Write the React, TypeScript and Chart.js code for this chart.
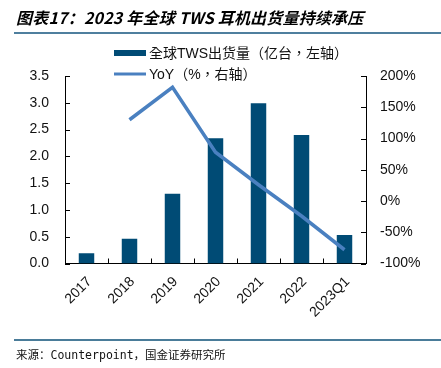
import React, { useEffect, useRef } from "react";
import { Chart, registerables } from "chart.js";

Chart.register(...registerables);

const categories = ["2017", "2018", "2019", "2020", "2021", "2022", "2023Q1"];
const shipments = [0.19, 0.46, 1.3, 2.34, 2.99, 2.4, 0.53];
const yoy: (number | null)[] = [null, 130, 182, 78, 26, -24, -78];
const shipmentLabel = "全球TWS出货量（亿台，左轴）";
const yoyLabel = "YoY（%，右轴）";
const titleText = "图表17：2023 年全球 TWS 耳机出货量持续承压";
const sourceText = "来源：Counterpoint，国金证券研究所";

const FONT = '"Liberation Sans", "Noto Sans CJK SC", sans-serif';
const LEGEND_FONT = '"Liberation Sans", "Noto Sans CJK TC", sans-serif';
const BAR_COLOR = "#004B75";
const LINE_COLOR = "#4A80C0";

const legendPlugin = {
  id: "customLegend",
  afterDraw(chart: any) {
    const ctx = chart.ctx;
    const ds = chart.data.datasets;
    const x0 = 114;
    const r1 = 53;
    const r2 = 74;
    ctx.save();
    ctx.font = `14px ${LEGEND_FONT}`;
    ctx.textBaseline = "middle";
    ctx.textAlign = "left";
    ctx.fillStyle = ds[0].backgroundColor;
    ctx.fillRect(x0, r1 - 3, 32, 6);
    ctx.fillStyle = "#111";
    ctx.fillText(ds[0].label, x0 + 35, r1 + 1);
    ctx.strokeStyle = ds[1].borderColor;
    ctx.lineWidth = 3;
    ctx.beginPath();
    ctx.moveTo(x0, r2);
    ctx.lineTo(x0 + 32, r2);
    ctx.stroke();
    ctx.fillText(ds[1].label, x0 + 35, r2 + 1);
    ctx.restore();
  },
};

const tickPlugin = {
  id: "inwardTicks",
  afterDraw(chart: any) {
    const { ctx, chartArea, scales } = chart;
    ctx.save();
    ctx.strokeStyle = "#000";
    ctx.lineWidth = 1;
    ctx.beginPath();
    scales.y.ticks.forEach((t: any) => {
      const py = Math.round(scales.y.getPixelForValue(t.value)) + 0.5;
      ctx.moveTo(chartArea.left, py);
      ctx.lineTo(chartArea.left + 5, py);
    });
    scales.y1.ticks.forEach((t: any) => {
      const py = Math.round(scales.y1.getPixelForValue(t.value)) + 0.5;
      ctx.moveTo(chartArea.right, py);
      ctx.lineTo(chartArea.right - 5, py);
    });
    for (let i = 0; i <= categories.length; i++) {
      const px = Math.round(scales.x.getPixelForValue(i - 0.5)) + 0.5;
      ctx.moveTo(px, chartArea.bottom);
      ctx.lineTo(px, chartArea.bottom - 5);
    }
    ctx.stroke();
    ctx.restore();
  },
};

export default function App() {
  const canvasRef = useRef<HTMLCanvasElement | null>(null);

  useEffect(() => {
    if (!canvasRef.current) return;
    const chart = new Chart(canvasRef.current, {
      type: "bar",
      data: {
        labels: categories,
        datasets: [
          {
            type: "bar",
            label: shipmentLabel,
            data: shipments,
            backgroundColor: BAR_COLOR,
            borderWidth: 0,
            yAxisID: "y",
            barPercentage: 0.36,
            categoryPercentage: 1,
            order: 2,
          } as any,
          {
            type: "line",
            label: yoyLabel,
            data: yoy,
            borderColor: LINE_COLOR,
            backgroundColor: LINE_COLOR,
            borderWidth: 3.5,
            pointRadius: 0,
            tension: 0,
            yAxisID: "y1",
            order: 1,
          } as any,
        ],
      },
      options: {
        animation: false,
        responsive: true,
        maintainAspectRatio: false,
        layout: { padding: { top: 76, left: 0, right: 0, bottom: 0 } },
        plugins: {
          legend: { display: false },
          tooltip: { enabled: false },
          title: { display: false },
        },
        scales: {
          x: {
            grid: { display: false, drawTicks: false },
            border: { display: true, color: "#000", width: 1 },
            ticks: {
              minRotation: 45,
              maxRotation: 45,
              padding: 10,
              labelOffset: 3,
              color: "#111",
              font: { family: FONT, size: 14 },
            },
            afterFit: (s: any) => {
              s.height = 104.5;
            },
          },
          y: {
            position: "left",
            min: 0,
            max: 3.5,
            grid: { display: false, drawTicks: false },
            border: { display: true, color: "#000", width: 1 },
            ticks: {
              stepSize: 0.5,
              padding: 16,
              color: "#111",
              font: { family: FONT, size: 14 },
              callback: (v: any) => Number(v).toFixed(1),
            },
            afterFit: (s: any) => {
              s.width = 65;
            },
          },
          y1: {
            position: "right",
            min: -100,
            max: 200,
            grid: { display: false, drawTicks: false },
            border: { display: true, color: "#000", width: 1 },
            ticks: {
              stepSize: 50,
              padding: 14,
              color: "#111",
              font: { family: FONT, size: 14 },
              callback: (v: any) => `${v}%`,
            },
            afterFit: (s: any) => {
              s.width = 75;
            },
          },
        },
      },
      plugins: [tickPlugin, legendPlugin],
    });
    return () => chart.destroy();
  }, []);

  return (
    <div
      style={{
        position: "fixed",
        left: 0,
        top: 0,
        width: 441,
        height: 368,
        background: "#fff",
        overflow: "hidden",
      }}
    >
      <div style={{ position: "absolute", left: 0, top: 0, width: 441, height: 368 }}>
        <canvas ref={canvasRef} />
      </div>
      <div
        style={{
          position: "absolute",
          left: 16,
          top: 6,
          fontFamily: '"Noto Sans CJK SC", sans-serif',
          fontWeight: "bold",
          fontStyle: "italic",
          fontSize: 16,
          lineHeight: "23px",
          letterSpacing: 0.2,
          color: "#000",
          whiteSpace: "nowrap",
        }}
      >
        {titleText}
      </div>
      <div
        style={{
          position: "absolute",
          left: 14,
          top: 32,
          width: 427,
          height: 2,
          background: "#4F7F9E",
        }}
      />
      <div
        style={{
          position: "absolute",
          left: 14,
          top: 339,
          width: 427,
          height: 1.5,
          background: "#4A7C99",
        }}
      />
      <div
        style={{
          position: "absolute",
          left: 16,
          top: 347,
          fontFamily: '"DejaVu Sans Mono", "Noto Sans CJK SC", monospace',
          fontSize: 11.5,
          lineHeight: "16px",
          color: "#111",
          whiteSpace: "nowrap",
        }}
      >
        {sourceText}
      </div>
    </div>
  );
}
